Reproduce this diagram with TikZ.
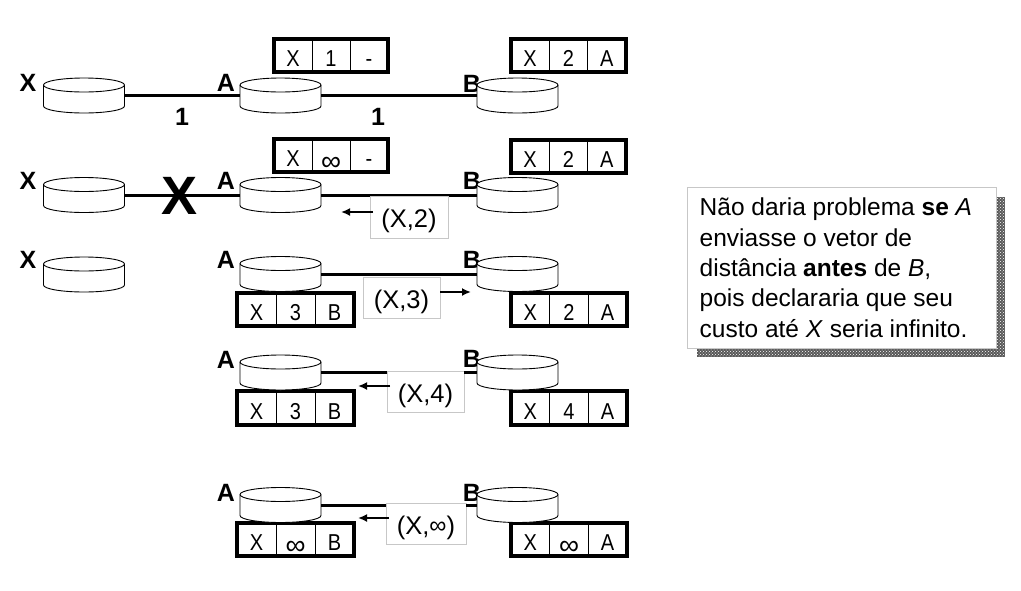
\documentclass[tikz,border=0pt]{standalone}
\usepackage{fontspec}
\setmainfont{Liberation Sans}
\usetikzlibrary{arrows.meta,calc,patterns}
\newcommand{\fz}[1]{\fontsize{#1}{#1}\selectfont}
\newcommand{\tinf}{\raisebox{-3.5pt}{\scalebox{1.4}[1.2]{∞}}}
\newcommand{\msgt}[1]{\raisebox{-10.5pt}[0pt][0pt]{#1}}
\tikzset{
 routerbox/.style={minimum width=81pt,minimum height=35pt,inner sep=0pt,outer sep=0pt},
 routerline/.style={draw=black,fill=white,line width=0.9pt},
 link/.style={line width=3pt,black},
 rlabel/.style={font=\fz{25}\bfseries,inner sep=0pt},
 tablebox/.style={draw=black,line width=4pt,anchor=north west,inner sep=0pt,outer sep=0pt},
 divider/.style={draw=black,line width=1pt},
 celltext/.style={font=\fz{23},inner sep=0pt,xscale=.87,text height=16.5pt,text depth=0pt,yshift=-3pt},
 msg/.style={draw=black!22,fill=white,line width=0.8pt,font=\fz{25.5},inner sep=0pt,outer sep=0pt},
 msgarrow/.style={line width=2pt,-{Latex[length=9pt,width=8pt]}},
}
\newcommand{\router}[3]{%
 \node[routerbox] (#1) at (#2,#3) {};
 \draw[routerline] ($(#1.center)+(-40.5,-10.5)$) arc (180:0:40.5pt and 7pt) -- ++(0,21) arc (0:-180:40.5pt and 7pt) -- cycle;
 \draw[routerline,fill=none] ($(#1.center)+(-40.5,-10.5)$) arc (180:360:40.5pt and 7pt);
}
% name, x1, y1, x2, y2, three texts
\newcommand{\tbl}[8]{%
 \node[tablebox,minimum width={#4-#2-4pt},minimum height={#5-#3-4pt}] (#1) at (#2+2,#3+2) {};
 \draw[divider] ($(#1.north west)!1/3!(#1.north east)$) -- ($(#1.south west)!1/3!(#1.south east)$);
 \draw[divider] ($(#1.north west)!2/3!(#1.north east)$) -- ($(#1.south west)!2/3!(#1.south east)$);
 \node[celltext] (#1a) at ($(#1.west)!1/6!(#1.east)$) {#6};
 \node[celltext] (#1b) at ($(#1.west)!1/2!(#1.east)$) {#7};
 \node[celltext] (#1c) at ($(#1.west)!5/6!(#1.east)$) {#8};
}
\begin{document}
\begin{tikzpicture}[x=1pt,y=-1pt]
\useasboundingbox (0,0) rectangle (1021,590);
% labels under routers
\node[rlabel] (lx1) at (28,83) {X};
\node[rlabel] (la1) at (226,83) {A};
\node[rlabel] (lb1) at (472,84) {B};
\node[rlabel] (lx2) at (28,181) {X};
\node[rlabel] (la2) at (226,181) {A};
\node[rlabel] (lb2) at (472,181) {B};
\node[rlabel] (lx3) at (28,260) {X};
\node[rlabel] (la3) at (226,260) {A};
\node[rlabel] (lb3) at (472,260) {B};
\node[rlabel] (la4) at (226,360) {A};
\node[rlabel] (lb4) at (472,359) {B};
\node[rlabel] (la5) at (226,492.5) {A};
\node[rlabel] (lb5) at (472,492.5) {B};
% tables
\tbl{ta1}{272}{37}{390}{74}{X}{1}{-}
\tbl{tb1}{509}{37}{628}{74}{X}{2}{A}
\tbl{ta2}{272}{137}{390}{174}{X}{\tinf}{-}
\tbl{tb2}{509}{138}{628}{175}{X}{2}{A}
\tbl{ta3}{235}{291}{356}{328}{X}{3}{B}
\tbl{tb3}{509}{291}{629}{328}{X}{2}{A}
\tbl{ta4}{235}{389}{356}{427}{X}{3}{B}
\tbl{tb4}{509}{389}{629}{427}{X}{4}{A}
\tbl{ta5}{235}{521}{356}{558}{X}{\tinf}{B}
\tbl{tb5}{509}{521}{629}{558}{X}{\tinf}{A}
% routers
\router{x1}{84}{95.5}
\router{a1}{280.5}{95.5}
\router{b1}{517.5}{95.5}
\router{x2}{84}{195}
\router{a2}{280.5}{195}
\router{b2}{517.5}{195}
\router{x3}{84}{274.5}
\router{a3}{280.5}{274}
\router{b3}{517.5}{274}
\router{a4}{280.5}{372.5}
\router{b4}{517.5}{372.5}
\router{a5}{280.5}{505}
\router{b5}{517.5}{505}
% links
\draw[link] (x1.east) -- (a1.west);
\draw[link] (a1.east) -- (b1.west);
\draw[link] (x2.east) -- (a2.west);
\draw[link] (a2.east) -- (b2.west);
\draw[link] (a3.east) -- (b3.west);
% link costs
\node[rlabel] (c1) at (182,116.5) {1};
\node[rlabel] (c2) at (378,116.5) {1};
\node[font=\fz{54}\bfseries,inner sep=0pt] (cut) at (179.5,196) {X};
% messages
\node[msg,minimum width=78pt,minimum height=42pt] (m2) at (409,217) {\msgt{(X,2)}};
\node[msg,minimum width=77pt,minimum height=41pt] (m3) at (401.5,297.5) {\msgt{(X,3)}};
\node[msg,minimum width=77pt,minimum height=41pt] (m4) at (425.5,391.5) {\msgt{(X,4)}};
\node[msg,minimum width=80pt,minimum height=41pt] (m5) at (426,523.5) {\msgt{(X,{\raisebox{1pt}{\fz{24}∞}})}};
\draw[link] (a4.east) -- (a4.east -| m4.west);
\draw[link] (a4.east -| m4.east) -- (b4.west);
\draw[link] (a5.east) -- (a5.east -| m5.west);
\draw[link] (a5.east -| m5.east) -- (b5.west);
% arrows
\coordinate (e2) at (341,212);
\coordinate (e3) at (471,292);
\coordinate (e4) at (358,386);
\coordinate (e5) at (358,518);
\draw[msgarrow] (e2 -| m2.west) ++(3,0) -- (e2);
\draw[msgarrow] (e3 -| m3.east) -- (e3);
\draw[msgarrow] (e4 -| m4.west) ++(3,0) -- (e4);
\draw[msgarrow] (e5 -| m5.west) ++(3,0) -- (e5);
% note with shadow
\fill[black!65] (697,197) rectangle (1005,357);
\fill[pattern=crosshatch dots,pattern color=white] (697,197) rectangle (1005,357);
\node[draw=black!22,fill=white,line width=0.8pt,minimum width=309pt,minimum height=161pt,inner sep=0pt,anchor=north west] (note) at (687,187) {};
\node[font=\fontsize{24.5}{30.3}\selectfont,align=left,anchor=north west,inner sep=0pt] (notetext) at (699.5,198) {N\~ao daria problema \textbf{se} \textit{A}\\enviasse o vetor de\\dist\^ancia \textbf{antes} de \textit{B},\\pois declararia que seu\\custo at\'e \textit{X} seria infinito.};
\end{tikzpicture}
\end{document}
